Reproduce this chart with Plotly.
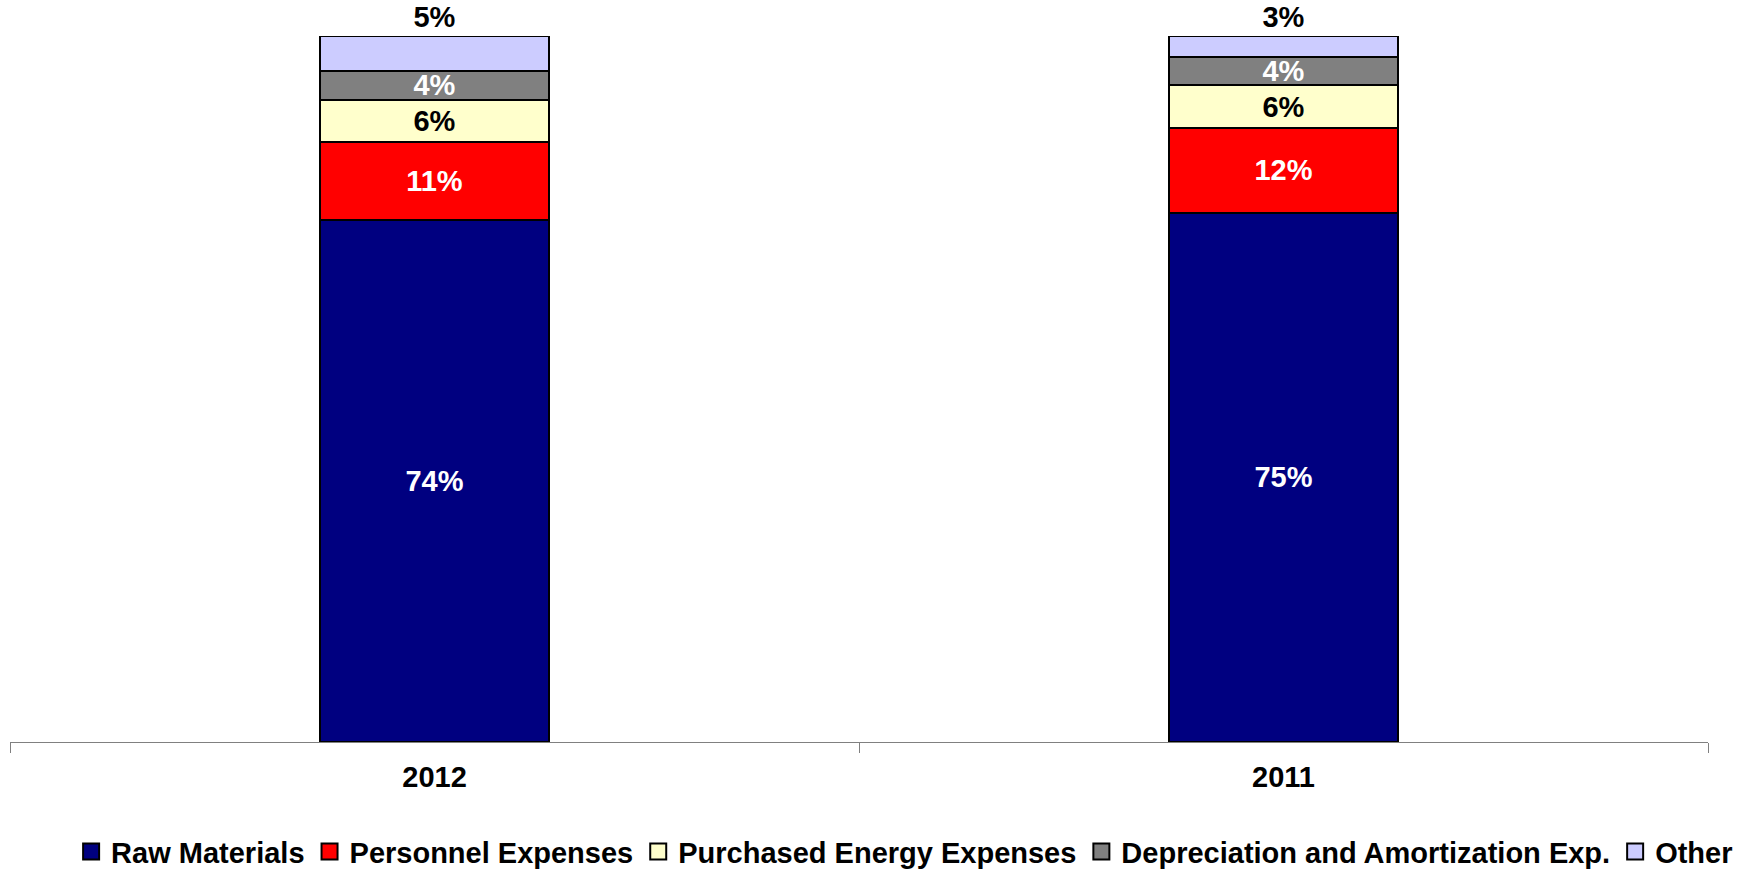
import plotly.graph_objects as go

# Cost structure by year (share of total costs, %)
years = ["2012", "2011"]
categories = [
    "Raw Materials",
    "Personnel Expenses",
    "Purchased Energy Expenses",
    "Depreciation and Amortization Exp.",
    "Other",
]
raw_materials = [74, 75]
personnel = [11, 12]
energy = [6, 6]
depreciation = [4, 4]
other = [5, 3]

series = [raw_materials, personnel, energy, depreciation, other]
fill_colors = ["#000080", "#FF0000", "#FFFFCC", "#808080", "#CCCCFF"]
label_colors = ["white", "white", "black", "white", "black"]

FONT = "Arial, Liberation Sans, sans-serif"
FS = 29

fig = go.Figure()
for name, vals, fc, lc in zip(categories, series, fill_colors, label_colors):
    is_top = name == "Other"
    fig.add_trace(go.Bar(
        name=name,
        x=years,
        y=vals,
        width=0.27,
        marker=dict(color=fc, line=dict(color="black", width=2)),
        text=[f"{v}%" for v in vals],
        texttemplate="%{text}",
        textposition="outside" if is_top else "inside",
        insidetextanchor="middle",
        textfont=dict(family=FONT, size=FS, color=lc, weight="bold"),
        outsidetextfont=dict(family=FONT, size=FS, color=lc, weight="bold"),
        cliponaxis=False,
        hoverinfo="skip",
        showlegend=False,
        legendgroup=name,
    ))

# Legend entries with larger square swatches
for name, fc in zip(categories, fill_colors):
    fig.add_trace(go.Scatter(
        name=name,
        x=[None],
        y=[None],
        mode="markers",
        marker=dict(symbol="square", size=16, color=fc,
                    line=dict(color="black", width=2)),
        legendgroup=name,
        showlegend=True,
        hoverinfo="skip",
    ))

fig.update_layout(
    barmode="stack",
    width=1743,
    height=870,
    margin=dict(l=10, r=35, t=36, b=128),
    paper_bgcolor="white",
    plot_bgcolor="white",
    uniformtext=dict(minsize=FS, mode="show"),
    font=dict(family=FONT, size=FS, color="black"),
    xaxis=dict(
        type="category",
        range=[-0.5, 1.5],
        showline=True,
        linecolor="#808080",
        linewidth=1,
        ticks="outside",
        tickson="boundaries",
        ticklen=10,
        tickcolor="#808080",
        ticklabelstandoff=9,
        tickfont=dict(family=FONT, size=FS, color="black", weight="bold"),
        showgrid=False,
        zeroline=False,
    ),
    yaxis=dict(
        range=[0, 100],
        visible=False,
        showgrid=False,
        zeroline=False,
    ),
    legend=dict(
        orientation="h",
        xref="container",
        yref="container",
        x=0.519,
        xanchor="center",
        y=0.021,
        yanchor="middle",
        font=dict(family=FONT, size=FS, color="black", weight="bold"),
        traceorder="normal",
        itemclick=False,
        itemsizing="trace",
    ),
    bargap=0.73,
)

fig.write_html("out.html")
